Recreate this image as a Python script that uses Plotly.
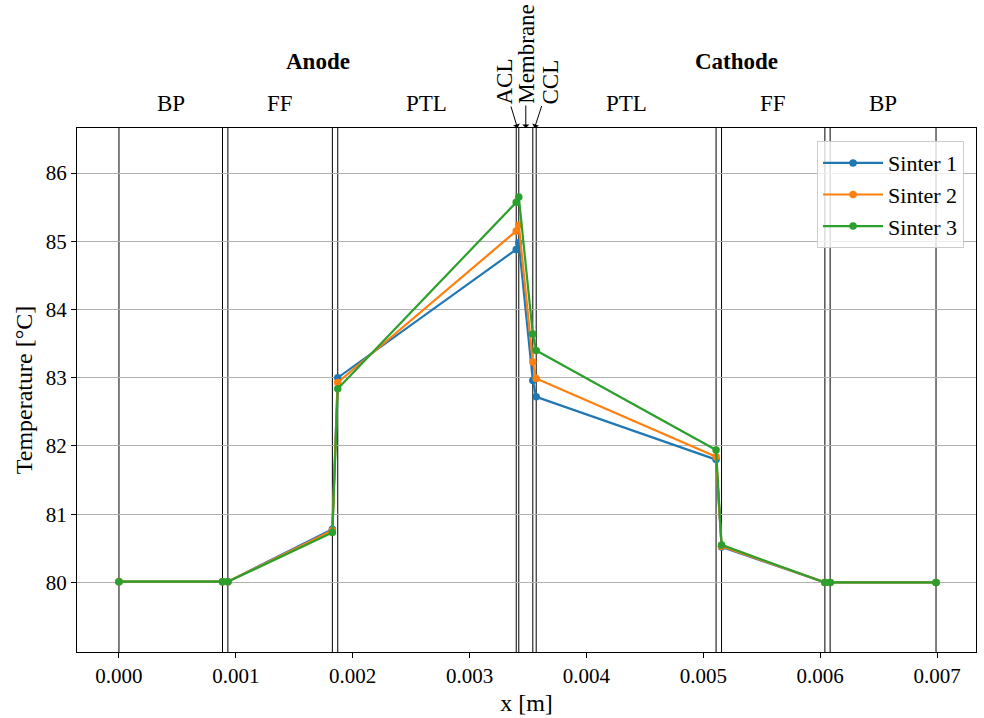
import plotly.graph_objects as go

# Layer boundary positions [m] (also the node positions of the temperature profile)
x_positions = [0.0, 0.000886, 0.000932, 0.001826, 0.001872, 0.003399, 0.003421,
               0.003541, 0.00357, 0.005109, 0.005156, 0.00604, 0.006085, 0.006991]

sinter1 = [80.01, 80.01, 80.01, 80.78, 83.00, 84.88, 84.98, 82.96, 82.72, 81.80, 80.52, 80.00, 80.00, 80.00]
sinter2 = [80.01, 80.01, 80.01, 80.76, 82.93, 85.15, 85.24, 83.23, 82.99, 81.84, 80.53, 80.00, 80.00, 80.00]
sinter3 = [80.01, 80.01, 80.01, 80.73, 82.84, 85.57, 85.65, 83.64, 83.40, 81.94, 80.55, 80.00, 80.00, 80.00]

series_names = ["Sinter 1", "Sinter 2", "Sinter 3"]
series_colors = ["#1f77b4", "#ff7f0e", "#2ca02c"]

# Layer labels: (name, index of left boundary, index of right boundary)
layer_labels = [("BP", 0, 1), ("FF", 2, 3), ("PTL", 4, 5),
                ("PTL", 8, 9), ("FF", 10, 11), ("BP", 12, 13)]
side_labels = [("Anode", 0, 5), ("Cathode", 8, 13)]
# thin layers: (name, left idx, right idx, text x offset px, text y offset px)
thin_labels = [("ACL", 5, 6, -14, -46), ("Membrane", 6, 7, 0, -74), ("CCL", 7, 8, 15, -46)]

x_ticks = [0.0, 0.001, 0.002, 0.003, 0.004, 0.005, 0.006, 0.007]
y_ticks = [80, 81, 82, 83, 84, 85, 86]

FONT = "Liberation Serif, Times New Roman, serif"
FS_TICK = 21
FS_TEXT = 23
FS_LEGEND = 22
FS_TITLE = 24

fig = go.Figure()
for name, vals, col in zip(series_names, [sinter1, sinter2, sinter3], series_colors):
    fig.add_trace(go.Scatter(x=x_positions, y=vals, name=name, mode="lines+markers",
                             line=dict(color=col, width=2.2),
                             marker=dict(color=col, size=7.5)))

for xv in x_positions:
    fig.add_shape(type="line", xref="x", yref="paper", x0=xv, x1=xv, y0=0, y1=1,
                  line=dict(color="black", width=1), layer="below")

annotations = []
for name, i0, i1 in layer_labels:
    annotations.append(dict(x=(x_positions[i0] + x_positions[i1]) / 2, y=1.047,
                            xref="x", yref="paper", text=name, showarrow=False,
                            font=dict(family=FONT, size=FS_TEXT, color="black"),
                            xanchor="center", yanchor="middle"))
for name, i0, i1 in side_labels:
    annotations.append(dict(x=(x_positions[i0] + x_positions[i1]) / 2, y=1.127,
                            xref="x", yref="paper", text="<b>" + name + "</b>", showarrow=False,
                            font=dict(family=FONT, size=FS_TEXT, color="black"),
                            xanchor="center", yanchor="middle"))
for name, i0, i1, axo, ayo in thin_labels:
    annotations.append(dict(x=(x_positions[i0] + x_positions[i1]) / 2, y=1.0,
                            xref="x", yref="paper", text=name, showarrow=True,
                            ax=axo, ay=ayo, textangle=-90,
                            arrowhead=1, arrowsize=1.2, arrowwidth=1, arrowcolor="black",
                            standoff=0, startstandoff=0,
                            font=dict(family=FONT, size=FS_TEXT, color="black")))

fig.update_layout(
    width=984, height=718,
    margin=dict(l=77, r=7, t=128, b=63),
    paper_bgcolor="white", plot_bgcolor="white",
    font=dict(family=FONT, size=FS_TICK, color="black"),
    annotations=annotations,
    legend=dict(x=0.9867, y=0.975, xanchor="right", yanchor="top",
                bgcolor="rgba(255,255,255,0.8)", bordercolor="#cccccc", borderwidth=1,
                font=dict(family=FONT, size=FS_LEGEND, color="black"), itemwidth=60,
                tracegroupgap=0),
    showlegend=True,
)
fig.update_xaxes(range=[-0.000359, 0.007333], tickvals=x_ticks,
                 ticktext=[f"{v:.3f}" for v in x_ticks],
                 tickfont=dict(family=FONT, size=FS_TICK),
                 showgrid=False, zeroline=False, showline=True, mirror=True,
                 linecolor="black", linewidth=1, ticks="outside", ticklen=5,
                 tickcolor="black", tickwidth=1,
                 title=dict(text="x [m]", font=dict(family=FONT, size=FS_TITLE), standoff=6))
fig.update_yaxes(range=[78.98, 86.66], tickvals=y_ticks,
                 tickfont=dict(family=FONT, size=FS_TICK),
                 showgrid=True, gridcolor="#b0b0b0", gridwidth=1.1, zeroline=False,
                 showline=True, mirror=True, linecolor="black", linewidth=1,
                 ticks="outside", ticklen=5, tickcolor="black", tickwidth=1,
                 title=dict(text="Temperature [°C]", font=dict(family=FONT, size=FS_TITLE), standoff=6))

fig.write_html("out.html")
